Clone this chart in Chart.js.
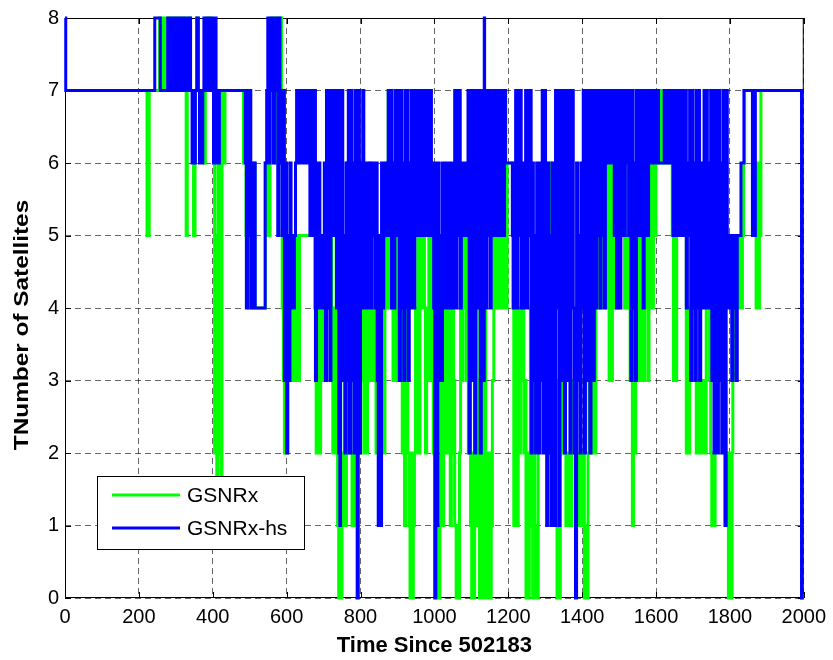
<!DOCTYPE html>
<html>
<head>
<meta charset="utf-8">
<title>Number of satellites</title>
<script src="https://cdn.jsdelivr.net/npm/chart.js@4.4.1/dist/chart.umd.min.js"></script>
<style>
  html, body { margin: 0; padding: 0; background: #fff; }
  canvas { display: block; }
</style>
</head>
<body>
<canvas id="satChart" width="833" height="660"></canvas>
<script>
// satellite counts as [time, count] change points (count holds until the next change)
const gsnrxSteps = [
  [0,7],[222,5],[228,7],[256,8],[259,7],[262,8],[265,7],[268,8],[271,7],[280,8],[284,7],[288,8],[292,7],
  [296,8],[300,7],[304,8],[308,7],[312,8],[316,7],[321,8],[324,7],[328,5],[331,7],[334,8],[338,7],[348,5],
  [352,7],[356,8],[360,7],[376,6],[380,7],[384,8],[388,7],[392,8],[396,7],[403,6],[405,2],[408,5],[411,1],
  [414,6],[417,2],[420,5],[423,1],[425,7],[430,6],[433,7],[483,6],[487,7],[490,5],[494,7],[498,4],[502,6],
  [506,4],[510,6],[514,4],[542,6],[546,5],[549,7],[552,5],[555,7],[558,8],[562,7],[566,8],[570,6],[574,8],
  [578,7],[582,8],[586,6],[588,4],[591,3],[594,2],[597,4],[600,2],[603,5],[606,3],[609,5],[612,4],[615,3],
  [618,5],[621,3],[624,5],[626,3],[629,5],[632,3],[635,5],[676,4],[680,2],[684,4],[688,2],[692,5],[695,4],
  [698,3],[701,4],[704,3],[707,5],[711,6],[715,4],[719,6],[722,3],[725,2],[728,4],[731,2],[734,5],[738,1],
  [741,0],[744,1],[747,0],[750,1],[753,2],[756,5],[759,1],[762,2],[765,6],[768,2],[771,5],[774,2],[777,1],
  [780,2],[783,1],[786,2],[789,6],[792,2],[795,5],[798,2],[801,6],[804,3],[807,5],[810,2],[813,4],[816,2],
  [819,5],[822,3],[826,6],[830,3],[834,5],[838,3],[842,2],[845,5],[848,2],[852,4],[856,2],[860,5],[863,2],
  [866,4],[869,6],[872,4],[875,7],[878,4],[882,6],[885,4],[888,3],[891,4],[895,3],[898,6],[901,3],[904,7],
  [907,3],[910,5],[913,2],[916,4],[919,1],[922,2],[925,6],[928,2],[931,1],[934,0],[937,2],[940,0],[943,1],
  [946,2],[949,4],[952,2],[955,5],[958,2],[961,4],[964,6],[967,4],[970,7],[973,4],[976,2],[979,4],[982,3],
  [985,5],[988,3],[991,6],[994,3],[997,2],[1000,4],[1003,2],[1006,4],[1009,1],[1011,0],[1015,1],[1019,3],
  [1022,1],[1025,2],[1028,5],[1031,2],[1034,5],[1037,2],[1040,4],[1043,1],[1046,2],[1049,5],[1052,3],
  [1055,1],[1059,0],[1063,1],[1065,0],[1068,2],[1071,5],[1074,3],[1077,5],[1080,4],[1083,5],[1086,3],
  [1089,5],[1092,2],[1095,4],[1098,1],[1101,0],[1104,2],[1106,0],[1109,1],[1113,4],[1116,1],[1119,3],
  [1122,0],[1126,2],[1129,4],[1132,0],[1136,4],[1139,1],[1143,0],[1147,2],[1150,0],[1154,1],[1157,3],
  [1161,5],[1164,4],[1167,5],[1170,4],[1173,6],[1176,5],[1179,4],[1182,6],[1185,5],[1188,4],[1191,6],
  [1194,4],[1197,6],[1212,4],[1215,1],[1218,4],[1221,2],[1224,1],[1227,4],[1230,2],[1233,4],[1236,3],
  [1239,5],[1242,2],[1245,3],[1248,0],[1251,2],[1254,0],[1257,2],[1260,4],[1263,1],[1266,0],[1269,3],
  [1272,0],[1275,1],[1278,0],[1281,3],[1284,5],[1287,3],[1290,6],[1293,3],[1296,5],[1299,3],[1302,6],
  [1305,2],[1308,5],[1311,3],[1314,6],[1317,2],[1320,5],[1323,3],[1326,1],[1329,3],[1332,0],[1335,2],
  [1338,0],[1341,2],[1344,3],[1347,2],[1350,4],[1353,2],[1356,1],[1362,2],[1366,1],[1372,2],[1376,3],
  [1380,2],[1384,1],[1388,2],[1392,1],[1396,2],[1400,1],[1404,2],[1406,0],[1410,1],[1413,0],[1416,2],
  [1419,4],[1422,2],[1425,3],[1428,2],[1431,4],[1434,2],[1437,4],[1440,5],[1443,4],[1446,5],[1449,4],
  [1452,6],[1455,5],[1458,6],[1461,5],[1464,6],[1467,4],[1470,6],[1473,3],[1476,6],[1479,3],[1482,6],
  [1485,4],[1488,6],[1491,5],[1494,4],[1497,5],[1500,4],[1503,6],[1506,5],[1509,6],[1512,5],[1515,4],
  [1518,5],[1521,4],[1524,6],[1527,4],[1530,3],[1533,4],[1536,1],[1539,4],[1542,2],[1545,4],[1548,3],
  [1551,5],[1554,3],[1557,5],[1560,3],[1563,5],[1566,3],[1569,5],[1572,4],[1575,5],[1578,3],[1581,6],
  [1584,4],[1587,6],[1590,4],[1593,6],[1596,5],[1600,6],[1605,7],[1610,6],[1615,7],[1620,6],[1625,7],
  [1630,6],[1635,7],[1640,6],[1644,5],[1647,3],[1650,5],[1653,3],[1656,5],[1659,6],[1663,7],[1667,6],
  [1671,5],[1675,6],[1679,5],[1682,2],[1685,4],[1688,2],[1691,4],[1694,3],[1697,5],[1700,3],[1703,5],
  [1706,4],[1709,2],[1712,3],[1715,2],[1718,3],[1721,2],[1724,3],[1727,2],[1730,3],[1733,2],[1736,5],
  [1739,4],[1742,5],[1745,3],[1748,2],[1751,1],[1754,2],[1757,1],[1760,3],[1763,4],[1766,3],[1769,5],
  [1772,3],[1775,4],[1778,3],[1781,4],[1784,2],[1787,1],[1790,2],[1793,1],[1796,0],[1800,2],[1803,0],
  [1806,2],[1808,3],[1811,5],[1825,4],[1828,5],[1831,4],[1834,5],[1837,6],[1840,7],[1865,6],[1868,6],
  [1871,4],[1874,6],[1877,4],[1880,5],[1884,7],[1994,0],[2000,0]
];

const hsSteps = [
  [0,8],[2,7],[243,8],[258,7],[278,8],[282,7],[286,8],[290,7],[294,8],[298,7],[302,8],[306,7],[310,8],
  [314,7],[318,8],[322,7],[328,8],[332,7],[336,8],[340,7],[344,6],[347,7],[350,6],[353,7],[357,8],[361,7],
  [364,6],[367,7],[370,6],[373,7],[376,8],[380,7],[386,8],[390,7],[394,8],[398,7],[402,6],[405,8],[409,6],
  [412,7],[415,6],[418,7],[488,6],[491,4],[494,7],[497,5],[500,7],[503,4],[506,6],[509,4],[512,6],[515,4],
  [542,6],[546,7],[549,8],[552,6],[555,8],[558,7],[561,8],[564,6],[567,8],[570,7],[573,8],[576,5],[579,8],
  [582,6],[585,7],[588,5],[591,7],[594,3],[597,6],[600,2],[603,5],[606,3],[609,6],[612,4],[615,5],[618,4],
  [621,5],[624,6],[627,7],[631,6],[635,7],[639,6],[643,7],[647,6],[651,7],[655,6],[659,7],[663,5],[666,7],
  [669,6],[672,5],[675,7],[678,3],[681,6],[684,4],[687,6],[690,5],[693,4],[696,5],[699,4],[702,6],[705,3],
  [708,7],[711,4],[714,7],[717,3],[720,6],[723,7],[726,5],[729,7],[732,6],[735,4],[738,7],[741,2],[744,1],
  [746,6],[749,7],[752,3],[755,5],[758,2],[761,6],[764,3],[767,7],[770,2],[773,7],[776,3],[779,6],[782,2],
  [785,7],[788,4],[791,0],[794,7],[797,2],[800,6],[803,4],[806,7],[809,4],[812,6],[815,5],[818,4],[821,6],
  [824,5],[827,4],[830,6],[833,5],[836,6],[839,4],[842,6],[845,3],[848,1],[851,5],[854,1],[857,6],[860,4],
  [863,6],[866,5],[869,6],[872,5],[875,7],[878,5],[881,7],[884,4],[887,6],[890,4],[893,7],[896,5],[899,7],
  [902,6],[905,3],[908,7],[911,4],[914,6],[917,3],[920,7],[923,4],[926,7],[929,3],[932,6],[935,4],[938,7],
  [941,5],[944,4],[947,7],[950,5],[953,6],[956,7],[959,5],[962,7],[965,6],[968,5],[971,7],[974,6],[977,5],
  [980,7],[983,5],[986,6],[989,7],[992,5],[995,6],[998,4],[1001,0],[1004,3],[1006,6],[1008,1],[1010,6],
  [1013,3],[1016,5],[1019,3],[1022,6],[1025,4],[1028,6],[1031,5],[1034,4],[1037,6],[1040,4],[1043,6],
  [1046,5],[1049,4],[1052,6],[1055,7],[1058,4],[1061,7],[1064,5],[1067,7],[1070,4],[1073,6],[1076,5],
  [1079,6],[1082,5],[1085,6],[1088,5],[1091,7],[1094,2],[1097,6],[1100,7],[1103,3],[1106,7],[1109,2],
  [1112,6],[1115,7],[1118,4],[1121,7],[1124,2],[1127,6],[1130,7],[1133,3],[1135,8],[1136,6],[1139,4],
  [1142,7],[1145,5],[1148,7],[1151,4],[1154,6],[1157,7],[1160,5],[1163,7],[1166,6],[1169,5],[1172,7],
  [1175,6],[1178,5],[1181,7],[1184,6],[1187,5],[1190,7],[1193,6],[1211,5],[1214,4],[1217,6],[1220,7],
  [1223,4],[1226,7],[1229,5],[1232,7],[1235,4],[1238,6],[1241,5],[1244,4],[1247,7],[1250,4],[1253,7],
  [1256,5],[1259,7],[1262,2],[1265,6],[1268,3],[1271,5],[1274,2],[1277,6],[1280,4],[1283,2],[1286,6],
  [1289,3],[1292,7],[1295,2],[1298,7],[1301,4],[1304,1],[1307,6],[1310,2],[1313,5],[1316,1],[1319,6],
  [1322,3],[1325,1],[1328,7],[1331,4],[1334,7],[1337,1],[1340,6],[1343,7],[1346,3],[1349,7],[1352,2],
  [1355,6],[1358,7],[1361,3],[1364,7],[1367,2],[1370,6],[1373,7],[1376,4],[1379,2],[1382,0],[1385,6],
  [1388,3],[1391,5],[1394,2],[1397,6],[1400,4],[1403,7],[1406,2],[1409,6],[1412,7],[1415,3],[1418,7],
  [1421,2],[1424,6],[1427,7],[1430,3],[1433,7],[1436,4],[1439,7],[1442,5],[1445,7],[1448,4],[1451,7],
  [1454,5],[1457,7],[1460,4],[1463,6],[1466,7],[1469,6],[1472,7],[1475,6],[1478,7],[1481,6],[1484,7],
  [1487,5],[1490,7],[1493,4],[1496,7],[1499,6],[1502,4],[1505,7],[1508,5],[1511,7],[1514,5],[1517,7],
  [1520,6],[1523,7],[1526,5],[1529,7],[1532,3],[1535,7],[1538,4],[1541,6],[1544,3],[1547,7],[1550,5],
  [1553,7],[1556,6],[1559,5],[1562,7],[1565,4],[1568,7],[1571,5],[1574,7],[1577,5],[1580,7],[1583,6],
  [1586,7],[1589,6],[1592,7],[1595,6],[1598,7],[1601,6],[1604,7],[1607,6],[1622,7],[1625,6],[1628,7],
  [1631,6],[1634,7],[1637,6],[1640,7],[1643,6],[1646,5],[1649,7],[1652,5],[1655,7],[1658,6],[1661,5],
  [1664,7],[1667,5],[1670,7],[1673,6],[1676,5],[1679,7],[1682,4],[1685,6],[1688,5],[1691,7],[1694,3],
  [1697,7],[1700,4],[1703,6],[1706,3],[1709,7],[1712,4],[1715,7],[1718,3],[1721,6],[1724,4],[1727,5],
  [1730,7],[1733,4],[1736,7],[1739,5],[1742,4],[1745,6],[1748,7],[1751,3],[1754,7],[1757,2],[1760,6],
  [1763,7],[1766,2],[1769,7],[1772,3],[1775,6],[1778,2],[1781,7],[1784,3],[1787,1],[1790,7],[1793,4],
  [1796,5],[1799,4],[1802,5],[1805,3],[1808,5],[1811,4],[1814,5],[1817,3],[1820,5],[1830,6],[1838,7],
  [1861,5],[1869,7],[1994,0],[2000,0]
];

const seriesNames = ['GSNRx', 'GSNRx-hs'];
const seriesColors = ['#00ff00', '#0000ff'];
const xTicks = [0, 200, 400, 600, 800, 1000, 1200, 1400, 1600, 1800, 2000];
const yTicks = [0, 1, 2, 3, 4, 5, 6, 7, 8];
const xTitle = 'Time Since 502183';
const yTitle = 'TNumber of Satellites';

const FONT = "'Liberation Sans', Arial, Helvetica, sans-serif";
const toPoints = steps => steps.map(([x, y]) => ({ x, y }));

// box, inward tick marks, legend and axis titles in the matlab look
const axesDecor = {
  id: 'axesDecor',
  beforeDatasetsDraw(chart) {
    const { ctx, chartArea: a, scales } = chart;
    ctx.save();
    ctx.strokeStyle = '#000';
    ctx.lineWidth = 1;
    ctx.strokeRect(a.left + 0.5, a.top + 0.5, a.right - a.left - 1, a.bottom - a.top - 1);
    ctx.beginPath();
    xTicks.forEach(v => {
      const px = Math.round(scales.x.getPixelForValue(v)) + 0.5;
      ctx.moveTo(px, a.bottom); ctx.lineTo(px, a.bottom - 6);
      ctx.moveTo(px, a.top); ctx.lineTo(px, a.top + 6);
    });
    yTicks.forEach(v => {
      const py = Math.round(scales.y.getPixelForValue(v)) + 0.5;
      ctx.moveTo(a.left, py); ctx.lineTo(a.left + 6, py);
      ctx.moveTo(a.right, py); ctx.lineTo(a.right - 6, py);
    });
    ctx.stroke();
    ctx.restore();
  },
  afterDatasetsDraw(chart) {
    const { ctx, chartArea: a } = chart;
    ctx.save();
    // legend box
    const bx = 97, by = 476, bw = 207, bh = 73;
    ctx.fillStyle = '#fff';
    ctx.fillRect(bx, by, bw, bh);
    ctx.strokeStyle = '#000';
    ctx.lineWidth = 1;
    ctx.strokeRect(bx + 0.5, by + 0.5, bw, bh);
    ctx.font = `21px ${FONT}`;
    ctx.textBaseline = 'middle';
    ctx.textAlign = 'left';
    seriesNames.forEach((name, i) => {
      const ly = 495 + i * 33;
      ctx.strokeStyle = seriesColors[i];
      ctx.lineWidth = 3;
      ctx.beginPath();
      ctx.moveTo(112, ly); ctx.lineTo(180, ly);
      ctx.stroke();
      ctx.fillStyle = '#000';
      ctx.fillText(name, 187, ly + 1);
    });
    // axis titles
    ctx.font = `bold 22px ${FONT}`;
    ctx.textAlign = 'center';
    ctx.fillText(xTitle, (a.left + a.right) / 2, 646);
    ctx.font = `bold 21px ${FONT}`;
    ctx.translate(22, 325);
    ctx.rotate(-Math.PI / 2);
    ctx.scale(1.16, 1);
    ctx.fillText(yTitle, 0, 0);
    ctx.restore();
  }
};

const gridStyle = { color: 'rgba(0,0,0,0.6)', lineWidth: 1, drawTicks: false };

new Chart(document.getElementById('satChart'), {
  type: 'line',
  data: {
    datasets: [
      // blue drawn last so it sits on top of the green trace
      { label: seriesNames[1], data: toPoints(hsSteps), borderColor: seriesColors[1], order: 0 },
      { label: seriesNames[0], data: toPoints(gsnrxSteps), borderColor: seriesColors[0], order: 1 }
    ]
  },
  options: {
    responsive: false,
    animation: false,
    layout: { padding: { top: 16, right: 28, left: 0, bottom: 0 } },
    elements: {
      point: { radius: 0, hoverRadius: 0 },
      line: { borderWidth: 3, stepped: true, tension: 0, fill: false, borderCapStyle: 'butt' }
    },
    datasets: { line: { clip: 4 } },
    plugins: { legend: { display: false }, tooltip: { enabled: false } },
    scales: {
      x: {
        type: 'linear', min: 0, max: 2000,
        afterFit: s => { s.height = 62; },
        grid: gridStyle,
        border: { display: false, dash: [6, 4] },
        ticks: {
          stepSize: 200, padding: 7, maxRotation: 0, color: '#000',
          font: { family: FONT, size: 20 },
          callback: v => String(v)
        }
      },
      y: {
        type: 'linear', min: 0, max: 8,
        afterFit: s => { s.width = 65; },
        grid: gridStyle,
        border: { display: false, dash: [6, 4] },
        ticks: { stepSize: 1, padding: 6, color: '#000', font: { family: FONT, size: 20 }, callback: v => String(v) }
      }
    }
  },
  plugins: [axesDecor]
});
</script>
</body>
</html>
